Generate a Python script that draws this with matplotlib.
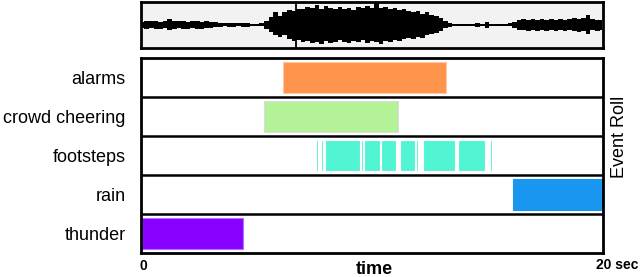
import matplotlib
matplotlib.use("Agg")
import matplotlib.pyplot as plt
import numpy as np

plt.rcParams['font.family'] = ['Liberation Sans', 'DejaVu Sans']

# ---- data ----
categories = ["alarms", "crowd cheering", "footsteps", "rain", "thunder"]
colors = ["#ff944d", "#b3f296", "#52f5d3", "#1996f0", "#8800ff"]
edge_colors = ["#ffc8a0", "#dcdcdc", "#ffffff", "#1996f0", "#b070ff"]

alarms_events = [(6.14, 13.24)]
crowd_events = [(5.32, 11.15)]
footsteps_events = [(7.58, 7.64), (7.80, 7.87), (7.94, 9.47), (9.52, 9.61),
                    (9.65, 10.33), (10.39, 11.04), (11.20, 11.87), (11.93, 11.99),
                    (12.20, 13.60), (13.67, 13.71), (13.75, 14.90), (15.15, 15.21)]
rain_events = [(16.15, 20.0)]
thunder_events = [(0.0, 4.40)]
events = [alarms_events, crowd_events, footsteps_events, rain_events, thunder_events]

cursor_time = 6.71

# waveform envelope (pixels of half-height) every 0.2 s
wave_t = [round(0.2 * i, 1) for i in range(101)]
wave_upper = [3, 4, 4, 4, 3, 4, 6, 4, 4, 4, 3, 4, 4, 3, 4, 3, 2.5, 1.5, 1.5, 2,
              1.5, 1.5, 1.5, 2, 1, 1, 1.5, 4, 8, 12, 9, 12, 14, 13, 15, 15, 17, 16, 19, 15,
              18, 16, 15, 17, 15, 16, 14, 17, 16, 18, 16, 21, 16, 17, 15, 16, 14, 15, 13, 12,
              13, 11, 12, 10, 9, 7, 4, 1.5, 1, 1, 1, 1, 1, 2, 1, 3, 1, 1, 1, 1,
              1.5, 3, 5, 6, 5, 6, 5, 6, 5, 6, 5, 6, 5, 6, 7, 6, 7, 10, 6, 5, 5]
wave_lower = [3, 4, 3, 4, 4, 3, 5, 4, 3, 4, 4, 3, 4, 4, 3, 3, 2, 1.5, 1, 1.5,
              1.5, 1, 1.5, 1.5, 1, 1, 1, 4, 7, 10, 11, 10, 13, 15, 14, 16, 15, 17, 16, 18,
              15, 17, 16, 14, 16, 17, 15, 16, 14, 17, 15, 16, 18, 15, 16, 14, 15, 13, 12, 13,
              11, 12, 10, 9, 8, 6, 3, 1.5, 1, 1, 1, 1, 1, 1.5, 1, 2.5, 1, 1, 1, 1,
              1, 2.5, 5, 5, 6, 5, 6, 5, 6, 5, 6, 5, 6, 5, 6, 7, 6, 9, 5, 6, 5]

# ---- figure ----
W, H = 640, 277
fig = plt.figure(figsize=(6.4, 2.77), dpi=100)

def fx(px):
    return px / W

def fy(py):
    return 1 - py / H

left, right = 141, 603
ax_w = fig.add_axes([fx(left), fy(48), fx(right - left), fy(2) - fy(48)])
ax_e = fig.add_axes([fx(left), fy(253), fx(right - left), fy(58) - fy(253)])

# waveform
t = np.array(wave_t)
up = np.array(wave_upper) / 22.0
lo = np.array(wave_lower) / 22.0
ax_w.set_facecolor("#f2f2f2")
ax_w.fill_between(t, -lo, up, step="mid", color="black", linewidth=0)
ax_w.axvline(cursor_time, color="black", lw=1.3)
ax_w.set_xlim(-0.05, 20.05)
ax_w.set_ylim(-1, 1)
ax_w.set_xticks([])
ax_w.set_yticks([])
for s in ax_w.spines.values():
    s.set_linewidth(2.0)

# event roll
n = len(categories)
bar_h = 0.77
for i, (evs, c, ec) in enumerate(zip(events, colors, edge_colors)):
    y = n - 1 - i
    starts = [a for a, b in evs]
    widths = [b - a for a, b in evs]
    ax_e.barh([y] * len(evs), widths, left=starts, height=bar_h, color=c,
              edgecolor=ec, linewidth=0.8)
for k in range(1, n):
    ax_e.axhline(k - 0.5, color="black", lw=1.8)
ax_e.set_xlim(-0.05, 20.05)
ax_e.set_ylim(-0.5, n - 0.5)
ax_e.set_xticks([])
ax_e.set_yticks(range(n))
ax_e.set_yticklabels(categories[::-1], fontsize=13)
ax_e.tick_params(axis="y", length=0, pad=11)
for s in ax_e.spines.values():
    s.set_linewidth(2.0)

# texts
fig.text(fx(143), fy(266), "0", fontsize=10, fontweight="bold", ha="center", va="center")
fig.text(fx(617), fy(265), "20 sec", fontsize=10, fontweight="bold", ha="center", va="center")
fig.text(fx(374), fy(270), "time", fontsize=13, fontweight="bold", ha="center", va="center")
fig.text(fx(620), fy(137), "Event Roll", fontsize=13, rotation=90, ha="center", va="center")

fig.savefig("out.png", dpi=100)
